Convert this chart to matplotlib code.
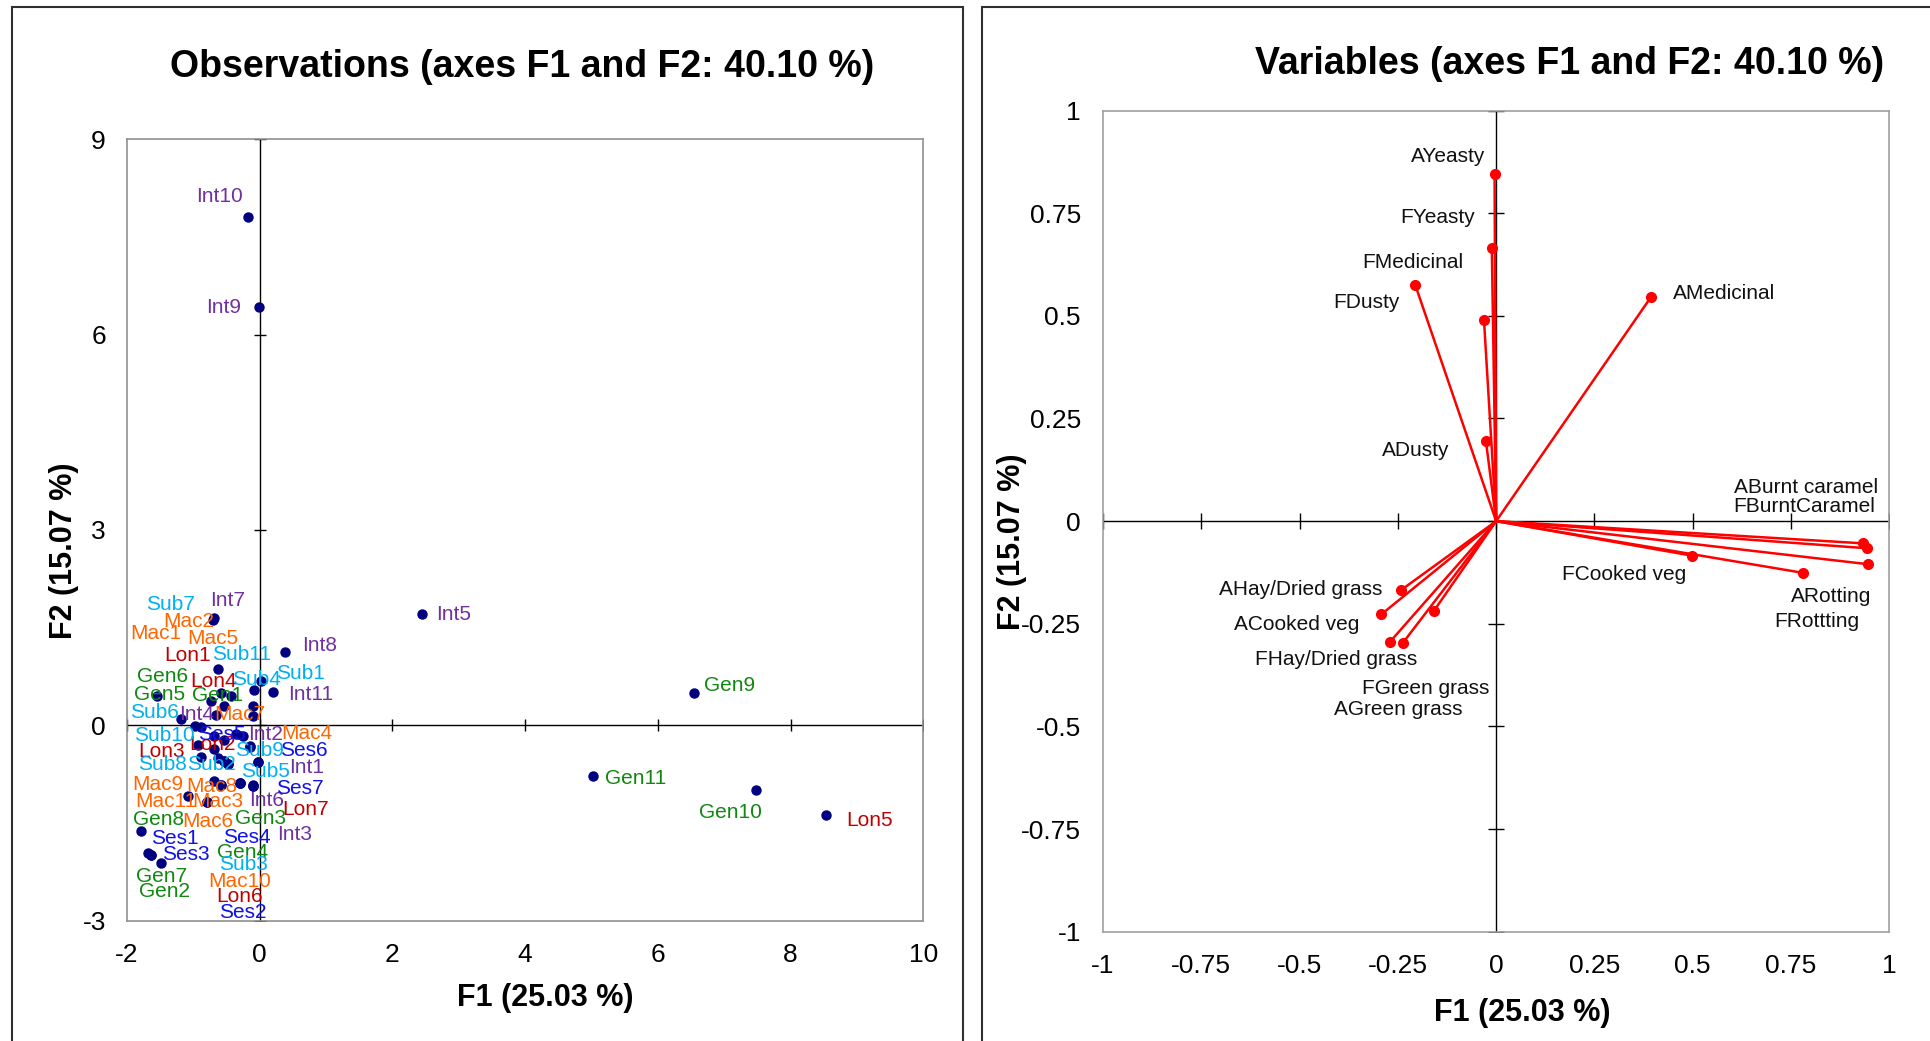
import matplotlib
matplotlib.use('Agg')
import matplotlib.pyplot as plt
from matplotlib.patches import Rectangle

plt.rcParams['font.family'] = ['Liberation Sans', 'DejaVu Sans']

# observations (F1, F2 scores)
obs_names = ['Gen1', 'Gen2', 'Gen3', 'Gen4', 'Gen5', 'Gen6', 'Gen7', 'Gen8', 'Gen9', 'Gen10', 'Gen11',
             'Int1', 'Int2', 'Int3', 'Int4', 'Int5', 'Int6', 'Int7', 'Int8', 'Int9', 'Int10', 'Int11',
             'Lon1', 'Lon2', 'Lon3', 'Lon4', 'Lon5', 'Lon6', 'Lon7',
             'Mac1', 'Mac2', 'Mac3', 'Mac4', 'Mac5', 'Mac6', 'Mac7', 'Mac8', 'Mac9', 'Mac10', 'Mac11',
             'Ses1', 'Ses2', 'Ses3', 'Ses4', 'Ses5', 'Ses6', 'Ses7',
             'Sub1', 'Sub2', 'Sub3', 'Sub4', 'Sub5', 'Sub6', 'Sub7', 'Sub8', 'Sub9', 'Sub10', 'Sub11']
obs_f1 = [-0.10, -1.63, -0.30, -0.30, -1.54, -1.18, -1.63, -1.79, 6.54, 7.48, 5.02,
          -0.35, -0.25, -0.10, -0.88, 2.44, -0.30, -0.68, 0.39, -0.01, -0.18, 0.20,
          -0.62, -0.68, -0.88, -0.65, 8.54, -0.48, -0.10,
          -0.73, -0.70, -0.58, -0.15, -0.43, -0.79, -0.10, -0.68, -1.08, -0.53, -0.79,
          -1.68, -0.15, -1.48, -0.03, -0.68, -0.03, -0.10,
          0.02, -0.53, -0.58, -0.08, -0.48, -0.98, -0.53, -0.63, -0.53, -0.93, -0.58]
obs_f2 = [0.29, -1.99, -0.89, -0.88, 0.45, 0.10, -1.99, -1.63, 0.50, -0.99, -0.78,
          -0.14, -0.17, -0.92, -0.02, 1.71, -0.89, 1.65, 1.13, 6.42, 7.80, 0.51,
          0.87, -0.37, -0.48, 0.16, -1.37, -0.60, -0.93,
          0.37, 1.62, -0.91, -0.32, 0.45, -1.17, 0.14, -0.86, -1.09, -0.55, -1.17,
          -1.96, -0.33, -2.12, -0.57, -0.17, -0.57, -0.93,
          0.68, -0.55, -0.91, 0.54, -0.60, -0.01, 0.29, -0.50, -0.22, -0.30, 0.50]
group_colors = {'Gen': '#108810', 'Int': '#7030A0', 'Lon': '#C00000',
                'Mac': '#FF6600', 'Ses': '#1010E8', 'Sub': '#00B0F0'}

# variables (correlations with F1, F2)
var_names = ['AYeasty', 'FYeasty', 'FMedicinal', 'FDusty', 'ADusty', 'AMedicinal',
             'ABurnt caramel', 'FBurntCaramel', 'ARotting', 'FRottting', 'FCooked veg',
             'AHay/Dried grass', 'ACooked veg', 'FHay/Dried grass', 'FGreen grass', 'AGreen grass']
var_f1 = [-0.004, -0.011, -0.031, -0.206, -0.026, 0.394,
          0.932, 0.943, 0.947, 0.781, 0.498,
          -0.242, -0.292, -0.271, -0.158, -0.237]
var_f2 = [0.845, 0.664, 0.490, 0.576, 0.195, 0.546,
          -0.054, -0.066, -0.105, -0.126, -0.084,
          -0.168, -0.227, -0.295, -0.218, -0.296]

# label placement (pixel offsets from the point: dx right, dy up)
obs_offsets = {
    'Int7': (13, 17), 'Mac2': (-24, -2), 'Int8': (34, 6), 'Lon1': (-31, 13), 'Sub1': (40, 8),
    'Sub4': (2, 11), 'Int11': (38, -2), 'Gen5': (2, 1), 'Sub11': (20, 38), 'Mac5': (-18, 57),
    'Mac1': (-55, 68), 'Sub7': (-54, 102), 'Gen1': (-35, 11), 'Lon4': (-3, 33), 'Gen6': (-19, 42),
    'Mac7': (-13, 2), 'Sub6': (-40, 13), 'Int4': (-5, 12), 'Int1': (70, -33), 'Int2': (23, 2),
    'Ses5': (7, 2), 'Sub9': (35, -11), 'Sub10': (-33, 9), 'Mac4': (57, 13), 'Lon2': (-2, 5),
    'Lon3': (-40, 5), 'Sub8': (-55, -7), 'Sub2': (-13, -3), 'Sub5': (38, -7), 'Ses6': (46, 12),
    'Mac8': (-3, -5), 'Int6': (27, -17), 'Ses7': (47, -3), 'Mac3': (-3, -17), 'Mac9': (-30, 12),
    'Mac11': (-41, 0), 'Gen8': (18, 12), 'Ses1': (27, 14), 'Gen7': (10, -22), 'Ses3': (25, 9),
    'Lon7': (53, -24), 'Mac6': (1, -20), 'Gen3': (21, -35), 'Int3': (42, -49), 'Ses4': (-11, -75),
    'Gen4': (3, -70), 'Sub3': (22, -80), 'Mac10': (15, -120), 'Gen2': (13, -37), 'Lon6': (12, -132),
    'Ses2': (-7, -166), 'Int10': (-28, 21), 'Int9': (-35, 0), 'Int5': (32, -1), 'Gen9': (36, 7),
    'Gen11': (43, -2), 'Gen10': (-26, -23), 'Lon5': (43, -6)}
var_offsets = {
    'AYeasty': (-9, 18), 'FYeasty': (-17, 31), 'FMedicinal': (-21, 57), 'FDusty': (-16, -18),
    'ADusty': (-36, -9), 'AMedicinal': (22, 3), 'ABurnt caramel': (16, 56), 'FBurntCaramel': (8, 42),
    'ARotting': (3, -32), 'FRottting': (56, -49), 'FCooked veg': (-6, -19),
    'AHay/Dried grass': (-19, 1), 'ACooked veg': (-22, -10), 'FHay/Dried grass': (28, -17),
    'FGreen grass': (55, -78), 'AGreen grass': (60, -67)}

fig = plt.figure(figsize=(19.30, 10.41), dpi=100)

# panel frames
fig.patches.append(Rectangle((12 / 1930, -0.05), (963 - 12) / 1930, 1.05 - 7 / 1041,
                             transform=fig.transFigure, fill=False, edgecolor='#303030', lw=1.5))
fig.patches.append(Rectangle((982 / 1930, -0.05), 0.6, 1.05 - 7 / 1041,
                             transform=fig.transFigure, fill=False, edgecolor='#303030', lw=1.5))

# ---- observations ----
ax1 = fig.add_axes([126.8 / 1930, 1 - 920.7 / 1041, (923.3 - 126.8) / 1930, (920.7 - 139.1) / 1041])
ax1.set_xlim(-2, 10)
ax1.set_ylim(-3, 9)
ax1.axhline(0, color='black', lw=1, zorder=1)
ax1.axvline(0, color='black', lw=1, zorder=1)
xt1 = [-2, 0, 2, 4, 6, 8, 10]
yt1 = [-3, 0, 3, 6, 9]
ax1.plot(xt1, [0] * len(xt1), ls='none', marker='|', ms=9, mew=1, color='black', zorder=1)
ax1.plot([0] * len(yt1), yt1, ls='none', marker='_', ms=9, mew=1, color='black', zorder=1)
ax1.plot(obs_f1, obs_f2, ls='none', marker='o', ms=6.5, color='#000080', zorder=2)
for name, x, y in zip(obs_names, obs_f1, obs_f2):
    dx, dy = obs_offsets[name]
    ax1.annotate(name, (x, y), xytext=(dx, dy), textcoords='offset pixels',
                 ha='center', va='center', fontsize=15, color=group_colors[name[:3]], zorder=3)
ax1.set_xticks(xt1)
ax1.set_yticks(yt1)
ax1.set_xticklabels([str(v) for v in xt1])
ax1.set_yticklabels([str(v) for v in yt1])
ax1.tick_params(length=0, labelsize=19, pad=15)
ax1.tick_params(axis='x', pad=16)
for s in ax1.spines.values():
    s.set_color('#909090')
    s.set_linewidth(1.2)

fig.text(522 / 1930, 1 - 67 / 1041, 'Observations (axes F1 and F2: 40.10 %)',
         ha='center', va='center', fontsize=27, fontweight='bold')
fig.text(545 / 1930, 1 - 998 / 1041, 'F1 (25.03 %)', ha='center', va='center',
         fontsize=22, fontweight='bold')
fig.text(64 / 1930, 1 - 551 / 1041, 'F2 (15.07 %)', ha='center', va='center',
         fontsize=22, fontweight='bold', rotation=90)

# ---- variables ----
ax2 = fig.add_axes([1103 / 1930, 1 - 931.8 / 1041, (1889.3 - 1103) / 1930, (931.8 - 110.5) / 1041])
ax2.set_xlim(-1, 1)
ax2.set_ylim(-1, 1)
ax2.axhline(0, color='black', lw=1, zorder=1)
ax2.axvline(0, color='black', lw=1, zorder=1)
t2 = [-1, -0.75, -0.5, -0.25, 0, 0.25, 0.5, 0.75, 1]
t2_labels = ['-1', '-0.75', '-0.5', '-0.25', '0', '0.25', '0.5', '0.75', '1']
ax2.plot(t2, [0] * len(t2), ls='none', marker='|', ms=11, mew=1, color='black', zorder=1)
ax2.plot([0] * len(t2), t2, ls='none', marker='_', ms=11, mew=1, color='black', zorder=1)
for name, x, y in zip(var_names, var_f1, var_f2):
    ax2.plot([0, x], [0, y], color='#FF0000', lw=1.8, zorder=2)
ax2.plot(var_f1, var_f2, ls='none', marker='o', ms=7, color='#FF0000', zorder=3)
for name, x, y in zip(var_names, var_f1, var_f2):
    dx, dy = var_offsets[name]
    ha = 'left' if name == 'AMedicinal' else 'right'
    ax2.annotate(name, (x, y), xytext=(dx, dy), textcoords='offset pixels',
                 ha=ha, va='center', fontsize=15, color='#111111', zorder=4)
ax2.set_xticks(t2)
ax2.set_yticks(t2)
ax2.set_xticklabels(t2_labels)
ax2.set_yticklabels(t2_labels)
ax2.tick_params(length=0, labelsize=19, pad=16)
ax2.tick_params(axis='x', pad=16)
for s in ax2.spines.values():
    s.set_color('#A0A0A0')
    s.set_linewidth(1.2)

fig.text(1570 / 1930, 1 - 64 / 1041, 'Variables (axes F1 and F2: 40.10 %)',
         ha='center', va='center', fontsize=27, fontweight='bold')
fig.text(1522 / 1930, 1 - 1013 / 1041, 'F1 (25.03 %)', ha='center', va='center',
         fontsize=22, fontweight='bold')
fig.text(1012 / 1930, 1 - 542 / 1041, 'F2 (15.07 %)', ha='center', va='center',
         fontsize=22, fontweight='bold', rotation=90)

fig.savefig('out.png', dpi=100)
